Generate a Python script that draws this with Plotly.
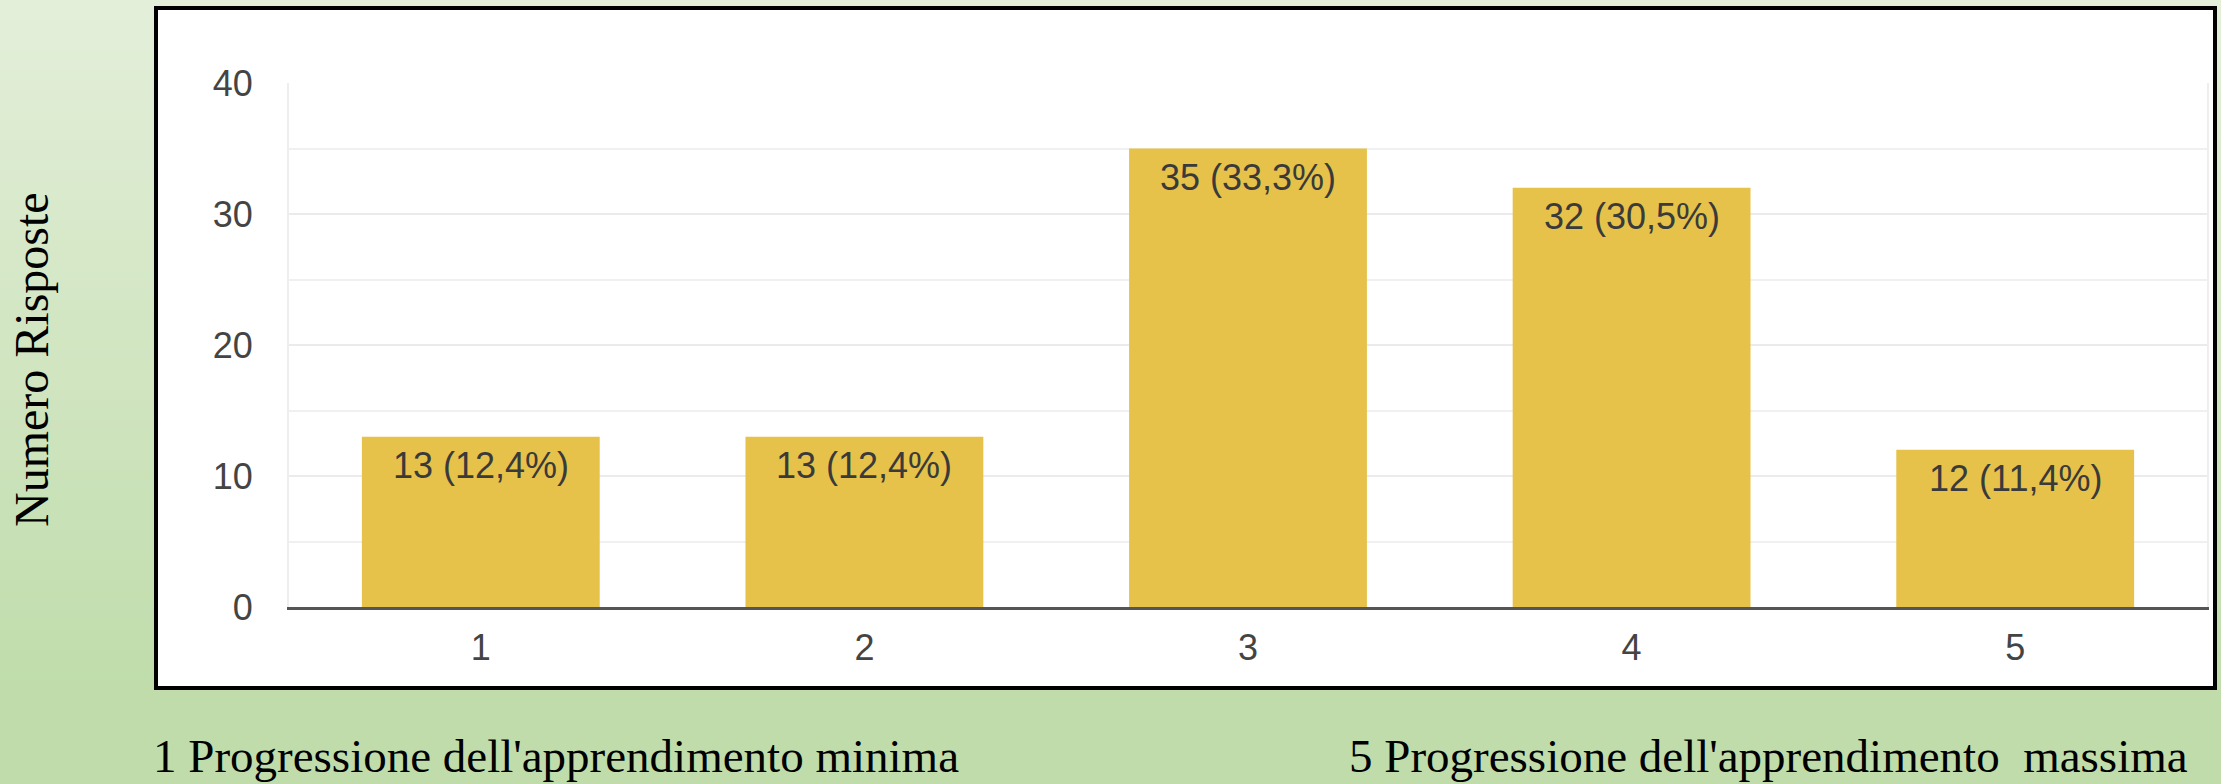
import plotly.graph_objects as go

categories = ["1", "2", "3", "4", "5"]
counts = [13, 13, 35, 32, 12]
percent_labels = ["12,4%", "12,4%", "33,3%", "30,5%", "11,4%"]
y_ticks = [0, 10, 20, 30, 40]
y_title = "Numero Risposte"
note_left = "1 Progressione dell'apprendimento minima"
note_right = "5 Progressione dell'apprendimento&nbsp; massima"

W, H = 2221, 784
ML, MR, MT, MB = 289, 14, 83, 177
PW = W - ML - MR
PH = H - MT - MB


def px(x):
    return (x - ML) / PW


def py(y):
    return (H - MB - y) / PH


bar_text = [f"{c} ({p})" for c, p in zip(counts, percent_labels)]
sans = "Liberation Sans, Arial, sans-serif"
serif = "Liberation Serif, Times New Roman, serif"

fig = go.Figure()
fig.add_trace(go.Bar(
    x=categories, y=counts,
    marker=dict(color="#e6c24a", line=dict(width=0)),
    hoverinfo="skip",
))

shapes = []
top = (228, 239, 218)
bot = (191, 220, 170)
n = 70
grad_end = 700
for i in range(n):
    y0 = grad_end * i / n
    y1 = grad_end * (i + 1) / n + 1
    t = (i + 0.5) / n
    c = tuple(round(top[k] + (bot[k] - top[k]) * t) for k in range(3))
    shapes.append(dict(type="rect", xref="paper", yref="paper", layer="below",
                       x0=px(0), x1=px(W), y0=py(y1), y1=py(y0),
                       fillcolor=f"rgb{c}", line=dict(width=0)))
shapes.append(dict(type="rect", xref="paper", yref="paper", layer="below",
                   x0=px(156), x1=px(2215), y0=py(688), y1=py(8),
                   fillcolor="white", line=dict(color="black", width=4)))

annotations = [
    dict(text=t, x=i, y=v, xref="x", yref="y", showarrow=False,
         xanchor="center", yanchor="top", yshift=-6,
         font=dict(family=sans, size=36, color="#3a3a3a"))
    for i, (v, t) in enumerate(zip(counts, bar_text))
]
annotations += [
    dict(text=y_title, xref="paper", yref="paper", x=px(31), y=py(360),
         textangle=-90, showarrow=False, xanchor="center", yanchor="middle",
         font=dict(family=serif, size=48, color="black")),
    dict(text=note_left, xref="paper", yref="paper", x=px(151), y=py(756),
         showarrow=False, xanchor="left", yanchor="middle",
         font=dict(family=serif, size=47, color="black")),
    dict(text=note_right, xref="paper", yref="paper", x=px(2190), y=py(756),
         showarrow=False, xanchor="right", yanchor="middle",
         font=dict(family=serif, size=47, color="black")),
]

fig.update_layout(
    width=W, height=H,
    margin=dict(l=ML, r=MR, t=MT, b=MB, pad=0),
    paper_bgcolor="rgb(191,220,170)",
    plot_bgcolor="rgba(0,0,0,0)",
    bargap=0.38,
    showlegend=False,
    shapes=shapes,
    annotations=annotations,
    xaxis=dict(
        type="category", range=[-0.5, 4.5], showgrid=False, zeroline=False,
        showline=True, linecolor="#555555", linewidth=3,
        ticks="", ticklabelstandoff=7,
        tickfont=dict(family=sans, size=36, color="#444444"),
    ),
    yaxis=dict(
        range=[0, 40], tickvals=y_ticks, showgrid=True, gridcolor="#ebebeb", gridwidth=2,
        minor=dict(dtick=5, showgrid=True, gridcolor="#f0f0f0", gridwidth=2),
        zeroline=False, showline=True, linecolor="#eeeeee", linewidth=2, mirror=True,
        ticks="", ticklabelstandoff=27,
        tickfont=dict(family=sans, size=36, color="#444444"),
    ),
)

fig.write_html("out.html", config={"displayModeBar": False},
               post_script="document.body.style.margin='0';document.body.style.overflow='hidden';")
